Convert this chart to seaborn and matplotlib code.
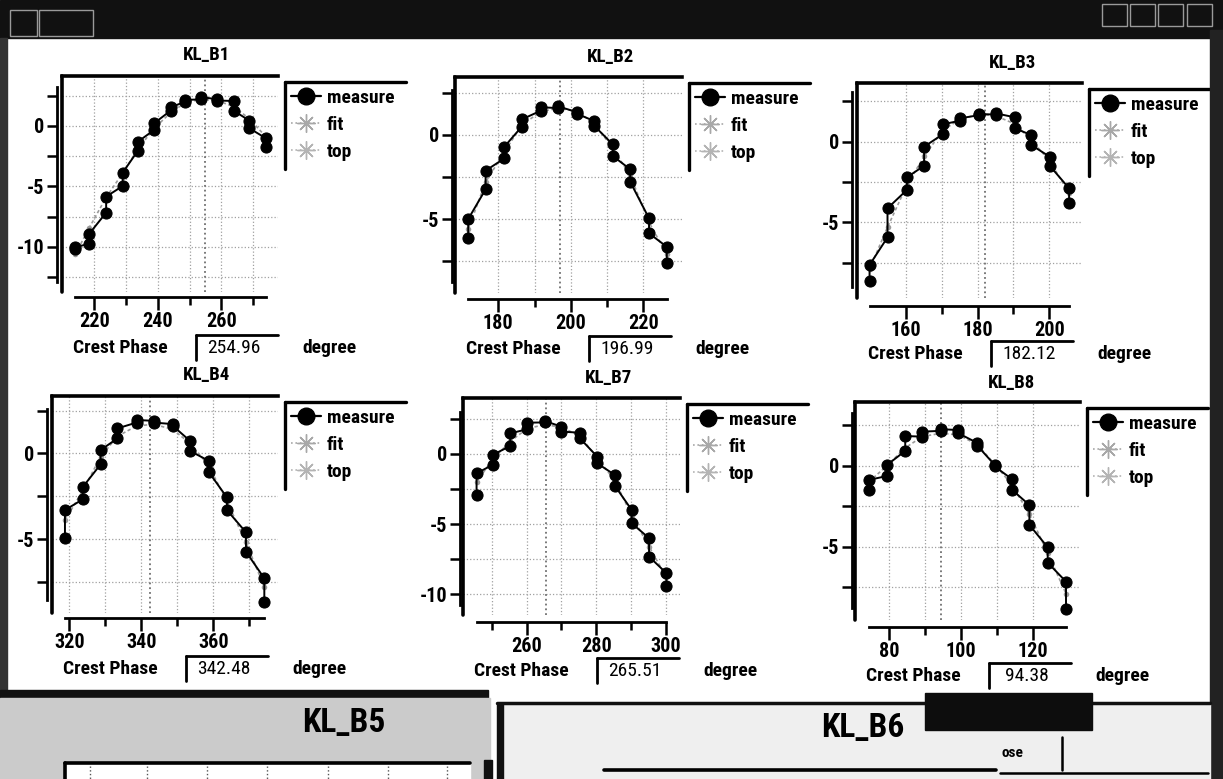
import os
import numpy as np
import pandas as pd
import matplotlib
matplotlib.use("Agg")
import matplotlib.pyplot as plt
import seaborn as sns
from matplotlib import font_manager
from matplotlib.font_manager import FontProperties
from matplotlib.lines import Line2D
from matplotlib.patches import Rectangle

sns.set_theme(style="white")
plt.rcParams["font.family"] = ["DejaVu Sans"]

# look for a narrow/condensed face, the screenshot uses a narrow bold sans
fonts = font_manager.fontManager.ttflist


def find_face(bold):
    prefs = [("Liberation", 1.0), ("Roboto", 1.0), ("Noto", 1.0), ("Open", 1.0), ("DejaVu", 0.82)]
    for key, k in prefs:
        for f in fonts:
            base = os.path.basename(f.fname)
            if key not in base and key not in f.name:
                continue
            if not ("Narrow" in base or "Condensed" in base or "Narrow" in f.name
                    or "Condensed" in f.name):
                continue
            if any(s in base for s in ["Italic", "Oblique", "Semi", "Extra", "Ultra", "Light",
                                       "Thin", "Medium", "Black", "Semibold", "SemiBold"]):
                continue
            if bold == ("Bold" in base):
                return f.fname, k
    return None, 0.78


bold_file, K = find_face(True)
reg_file, _ = find_face(False)


def fp(size, bold=True):
    f = bold_file if bold else reg_file
    if f:
        return FontProperties(fname=f, size=size * K)
    return FontProperties(family="DejaVu Sans", weight="bold" if bold else "normal", size=size * K)


W, H = 1223, 779

# ---- data (two readings per phase: upper / lower) ----
b1_phase = [214.0, 218.4, 223.7, 228.9, 233.7, 238.8, 244.0, 248.5, 253.5, 258.7, 263.8, 268.8, 274.0]
b1_hi = [-10.0, -8.9, -5.84, -3.86, -1.3, 0.22, 1.54, 2.15, 2.4, 2.2, 2.07, 0.44, -1.02]
b1_lo = [-10.2, -9.75, -7.16, -4.96, -2.04, -0.33, 1.27, 2.0, 2.2, 2.1, 1.27, -0.19, -1.71]
b1_fit = [-10.6, -8.4, -5.9, -3.9, -1.9, -0.2, 1.1, 1.9, 2.2, 2.1, 1.6, 0.6, -0.9]
b1_crest = 254.96

b2_phase = [171.7, 176.5, 181.7, 186.5, 191.8, 196.6, 201.8, 206.5, 211.6, 216.4, 221.6, 226.5]
b2_hi = [-5.0, -2.12, -0.69, 0.93, 1.65, 1.7, 1.35, 0.83, -0.56, -2.04, -4.96, -6.65]
b2_lo = [-6.15, -3.23, -1.39, 0.5, 1.45, 1.6, 1.25, 0.54, -1.25, -2.78, -5.85, -7.64]
b2_fit = [-5.6, -2.8, -1.0, 0.6, 1.4, 1.6, 1.4, 0.7, -0.8, -2.4, -5.2, -7.1]
b2_crest = 196.99

b3_phase = [149.9, 154.9, 160.3, 165.1, 170.3, 175.1, 180.5, 185.1, 190.4, 195.0, 200.1, 205.5]
b3_hi = [-7.64, -4.13, -2.21, -0.31, 1.08, 1.45, 1.72, 1.76, 1.51, 0.41, -0.93, -2.89]
b3_lo = [-8.62, -5.93, -2.99, -1.49, 0.46, 1.3, 1.65, 1.68, 0.83, -0.21, -1.49, -3.82]
b3_fit = [-7.9, -5.3, -2.7, -0.9, 0.7, 1.4, 1.7, 1.6, 1.1, 0.1, -1.2, -3.2]
b3_crest = 182.12

b4_phase = [318.8, 323.7, 328.7, 333.4, 338.7, 343.5, 348.7, 353.5, 358.7, 363.8, 369.1, 374.2]
b4_hi = [-3.31, -1.98, 0.19, 1.46, 1.95, 1.9, 1.71, 0.74, -0.43, -2.57, -4.61, -7.3]
b4_lo = [-4.96, -2.69, -0.64, 0.88, 1.8, 1.8, 1.62, 0.15, -1.07, -3.31, -5.74, -8.66]
b4_fit = [-3.9, -2.2, -0.2, 1.0, 1.6, 1.7, 1.4, 0.6, -0.7, -2.8, -5.2, -7.8]
b4_crest = 342.48

b7_phase = [245.6, 250.2, 255.3, 260.1, 265.2, 270.0, 275.3, 280.3, 285.4, 290.2, 295.2, 300.2]
b7_hi = [-1.38, -0.07, 1.47, 2.23, 2.35, 1.95, 1.52, -0.19, -1.5, -3.99, -6.0, -8.5]
b7_lo = [-2.92, -0.78, 0.57, 1.76, 2.25, 1.59, 1.12, -0.67, -2.28, -4.94, -7.32, -9.41]
b7_fit = [-2.0, -0.4, 0.9, 1.8, 2.1, 1.9, 1.3, -0.3, -1.9, -4.4, -6.6, -8.8]
b7_crest = 265.51

b8_phase = [74.4, 79.4, 84.5, 89.3, 94.5, 99.3, 104.6, 109.4, 114.3, 119.1, 124.2, 129.3]
b8_hi = [-0.88, 0.04, 1.83, 2.1, 2.25, 2.2, 1.4, 0.05, -0.84, -2.43, -5.04, -7.16]
b8_lo = [-1.5, -0.64, 0.91, 1.79, 2.15, 2.0, 1.23, -0.05, -1.5, -3.66, -5.99, -8.86]
b8_fit = [-1.0, 0.0, 1.1, 1.8, 2.0, 1.9, 1.3, 0.1, -1.2, -3.0, -5.4, -7.9]
b8_crest = 94.38

labels = ["measure", "fit", "top"]

# ---- layout: frame box (px), limits, ticks ----
panels = [
    dict(name="KL_B1", phase=b1_phase, hi=b1_hi, lo=b1_lo, fit=b1_fit, crest=b1_crest,
         frame=(62, 76, 278, 292), title=(207, 55), xlim=(209.8, 277.8), ylim=(-13.72, 4.13),
         ybnd=(-12.9, 3.25), ylo=-12.5, xmaj=[220, 240, 260], xmin=[230, 250, 270], off=(5, 5)),
    dict(name="KL_B2", phase=b2_phase, hi=b2_hi, lo=b2_lo, fit=b2_fit, crest=b2_crest,
         frame=(455, 77, 682, 293), title=(611, 57), xlim=(168.05, 230.7), ylim=(-9.4, 3.45),
         ybnd=(-8.73, 2.68), ylo=-7.5, xmaj=[180, 200, 220], xmin=[190, 210], off=(3, 6)),
    dict(name="KL_B3", phase=b3_phase, hi=b3_hi, lo=b3_lo, fit=b3_fit, crest=b3_crest,
         frame=(857, 83, 1082, 298), title=(1012, 63), xlim=(146.4, 209.1), ylim=(-9.69, 3.64),
         ybnd=(-8.99, 3.1), ylo=-7.5, xmaj=[160, 180, 200], xmin=[170, 190], off=(5, 8)),
    dict(name="KL_B4", phase=b4_phase, hi=b4_hi, lo=b4_lo, fit=b4_fit, crest=b4_crest,
         frame=(52, 396, 278, 613), title=(207, 375), xlim=(315.2, 378.0), ylim=(-9.32, 3.35),
         ybnd=(-8.56, 2.57), ylo=-7.5, xmaj=[320, 340, 360], xmin=[330, 350, 370], off=(5, 5)),
    dict(name="KL_B7", phase=b7_phase, hi=b7_hi, lo=b7_lo, fit=b7_fit, crest=b7_crest,
         frame=(463, 398, 680, 615), title=(608, 378), xlim=(241.7, 304.1), ylim=(-11.48, 3.99),
         ybnd=(-10.76, 3.0), ylo=-10, xmaj=[260, 280, 300], xmin=[250, 270, 290], off=(3, 7)),
    dict(name="KL_B8", phase=b8_phase, hi=b8_hi, lo=b8_lo, fit=b8_fit, crest=b8_crest,
         frame=(855, 402, 1080, 620), title=(1011, 383), xlim=(70.5, 133.2), ylim=(-9.53, 3.93),
         ybnd=(-8.8, 3.23), ylo=-7.5, xmaj=[80, 100, 120], xmin=[90, 110], off=(3, 7)),
]

fig = plt.figure(figsize=(W / 100, H / 100), dpi=100)
fig.patch.set_facecolor("white")


def fx(x):
    return x / W


def fy(y):
    return 1 - y / H


def rect(x, y, w, h, **kw):
    fig.add_artist(Rectangle((fx(x), fy(y + h)), w / W, h / H, transform=fig.transFigure, **kw))


def line(xs, ys, **kw):
    fig.add_artist(Line2D([fx(v) for v in xs], [fy(v) for v in ys], transform=fig.transFigure, **kw))


def text(x, y, s, size, bold=True, **kw):
    fig.text(fx(x), fy(y), s, fontproperties=fp(size, bold), color="black", **kw)


for p in panels:
    x0, y0, x1, y1 = p["frame"]
    ax = fig.add_axes([fx(x0), fy(y1), (x1 - x0) / W, (y1 - y0) / H])
    ax.set_facecolor("white")

    # zigzag through both readings of each phase
    peak = int(np.argmax(p["hi"]))
    xs, ys = [], []
    for i, (ph, a, b) in enumerate(zip(p["phase"], p["hi"], p["lo"])):
        pair = (b, a) if i <= peak else (a, b)
        xs += [ph, ph]
        ys += list(pair)
    df = pd.DataFrame({"phase": xs, "value": ys})

    ax.grid(True, which="both", ls=":", lw=0.9, color="#a0a0a0")
    ax.axvline(p["crest"], color="#707070", ls=":", lw=1.3, zorder=1)
    sns.lineplot(x=p["phase"], y=p["fit"], sort=False, estimator=None, color="#9a9a9a",
                 lw=1.2, ls=(0, (2, 1.5)), marker="o", markersize=4, markeredgewidth=0,
                 ax=ax, zorder=2)
    sns.lineplot(data=df, x="phase", y="value", sort=False, estimator=None, color="black",
                 lw=1.4, marker="o", markersize=8, markeredgecolor="black", ax=ax, zorder=3)

    ax.set_xlim(*p["xlim"])
    ax.set_ylim(*p["ylim"])
    ax.set_xlabel("")
    ax.set_ylabel("")
    ax.set_xticks(p["xmaj"])
    ax.set_xticks(p["xmin"], minor=True)
    yt = np.arange(p["ylo"], 2.6, 2.5)
    ax.set_yticks(yt)
    ax.set_yticklabels([str(int(v)) if v % 5 == 0 else "" for v in yt])

    ax.spines["right"].set_visible(False)
    ax.spines["top"].set_linewidth(2.6)
    ax.spines["top"].set_color("black")
    for s, o in zip(["left", "bottom"], p["off"]):
        ax.spines[s].set_visible(True)
        ax.spines[s].set_position(("outward", o * 0.72))
        ax.spines[s].set_linewidth(2)
        ax.spines[s].set_color("black")
    ax.spines["bottom"].set_bounds(p["phase"][0], p["phase"][-1])
    ax.spines["left"].set_bounds(*p["ybnd"])
    ax.plot([0, 0], [0, 1], transform=ax.transAxes, color="black", lw=2.6, clip_on=False)

    ax.tick_params(axis="both", which="both", direction="out", color="black", width=1.8,
                   bottom=True, left=True, labelcolor="black")
    ax.tick_params(axis="x", which="major", length=9, pad=2)
    ax.tick_params(axis="x", which="minor", length=6)
    ax.tick_params(axis="y", length=7, pad=2)
    for t in ax.get_xticklabels() + ax.get_yticklabels():
        t.set_fontproperties(fp(14.5))

    # legend with sunken box edges
    lx, ly = x1 + 7, y0 + 6
    line([lx, lx + 121], [ly, ly], color="black", lw=2.4)
    line([lx, lx], [ly, ly + 87], color="black", lw=2.4)
    handles = [
        Line2D([], [], color="black", lw=1.6, marker="o", markersize=12),
        Line2D([], [], color="#a8a8a8", lw=1.2, ls=":", marker=(8, 2, 0), markersize=13),
        Line2D([], [], color="#b4b4b4", lw=1.2, ls=":", marker=(8, 2, 0), markersize=13),
    ]
    leg = ax.legend(handles, labels, loc="upper left", bbox_to_anchor=(fx(lx + 6), fy(ly + 7)),
                    bbox_transform=fig.transFigure, frameon=False, prop=fp(14),
                    handlelength=1.55, handletextpad=0.3, labelspacing=0.47,
                    borderaxespad=0, borderpad=0)
    for t in leg.get_texts():
        t.set_color("black")

    # title and crest phase readout
    tx, ty = p["title"]
    text(tx, ty, p["name"], 13.5, ha="center", va="center")
    cy = y1 + 56
    text(x0 + 11, cy, "Crest Phase", 14, ha="left", va="center")
    line([x0 + 134, x0 + 134], [cy - 13, cy + 12], color="black", lw=2)
    line([x0 + 134, x0 + 216], [cy - 13, cy - 13], color="black", lw=2)
    text(x0 + 172, cy, f"{p['crest']:.2f}", 14, bold=False, ha="center", va="center")
    text(x0 + 240, cy, "degree", 14, ha="left", va="center")

# ---- window chrome ----
rect(0, 0, W, 38, color="#111111", zorder=5)
for bx, bw in [(10, 27), (39, 54)]:
    rect(bx, 10, bw, 26, fill=False, ec="#9a9a9a", lw=1, zorder=6)
for bx in [1102, 1130, 1158, 1187]:
    rect(bx, 4, 25, 22, fill=False, ec="#9a9a9a", lw=1, zorder=6)
rect(0, 38, 7, 660, color="#333333", zorder=5)
rect(1210, 30, 13, 749, color="#222222", zorder=5)
rect(0, 690, 488, 8, color="#111111", zorder=5)

# lower-left window KL_B5
rect(0, 698, 490, 81, color="#cbcbcb", zorder=5)
fig.text(fx(344), fy(723), "KL_B5", fontproperties=fp(24), color="black", ha="center",
         va="center", zorder=7)
rect(65, 763, 405, 16, color="white", zorder=6)
line([65, 470], [763, 763], color="black", lw=2.6, zorder=7)
line([65, 65], [763, 779], color="black", lw=2.6, zorder=7)
for gx in [90, 147, 207, 267, 328, 388, 447]:
    line([gx, gx], [766, 779], color="#555555", lw=1, ls=":", zorder=7)
rect(484, 760, 8, 19, color="#111111", zorder=7)

# lower-right window KL_B6
rect(497, 703, 713, 76, color="#efefef", zorder=5)
line([497, 1210], [703, 703], color="#111111", lw=2.5, zorder=6)
rect(497, 703, 6, 76, color="#111111", zorder=6)
fig.text(fx(863), fy(728), "KL_B6", fontproperties=fp(24), color="black", ha="center",
         va="center", zorder=7)
line([604, 996], [770, 770], color="black", lw=2.6, zorder=7)
rect(925, 693, 167, 37, color="#0d0d0d", zorder=7)
fig.text(fx(1002), fy(753), "ose", fontproperties=fp(11), color="black", ha="left",
         va="center", zorder=7)
line([1062, 1062], [737, 770], color="black", lw=1.8, zorder=7)
line([1000, 1208], [773, 773], color="black", lw=1.8, zorder=7)

fig.savefig("out.png", dpi=100, facecolor=fig.get_facecolor())
